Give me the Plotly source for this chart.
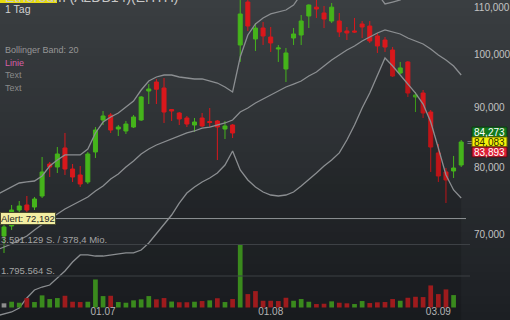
import math
import plotly.graph_objects as go

# ---------------- data ----------------
idx = list(range(61))
opens = [69730, 71130, 73430, 74170, 73870, 75510, 80480, 80000, 83090, 79680,
         78740, 77650, 82430, 87850, 88730, 86290, 85950, 86630, 87850, 93070,
         94760, 93630, 89710, 89090, 88200, 86980, 88200, 87590, 87680, 86290,
         86980, 102010, 111130, 103240, 105520, 103650, 101200, 97250, 103440, 104060,
         108080, 110000, 108720, 107000, 107000, 104900, 104900, 106370, 105940, 103860,
         103030, 101000, 96470, 98620, 91970, 92700, 89260, 82270, 79210, 79370,
         80320]
highs = [71270, 74170, 74760, 75510, 75360, 81610, 80800, 83250, 85610, 80480,
         80160, 82430, 86630, 89440, 89090, 86980, 87680, 88730, 92150, 94380,
         95330, 95520, 89800, 89260, 88560, 88200, 89090, 89980, 87850, 87680,
         87150, 112000, 111800, 106580, 106790, 105730, 102010, 101400, 105520, 108290,
         110600, 111700, 110250, 110910, 108720, 105730, 107650, 107000, 107000, 104480,
         103650, 101600, 98620, 98800, 92890, 93260, 89620, 83750, 79840, 81780,
         84420]
lows = [67400, 70570, 72700, 72420, 73430, 75210, 78420, 79050, 78740, 77650,
        76880, 77340, 81450, 86980, 85610, 85100, 85440, 86460, 87680, 90690,
        90690, 87330, 87680, 86980, 86630, 85780, 86630, 86630, 81120, 84590,
        84760, 98620, 104900, 100800, 102010, 100600, 98620, 94760, 102010, 102010,
        105520, 107650, 105520, 106580, 103650, 103030, 104480, 103440, 102420, 100400,
        100600, 95710, 96280, 91970, 89260, 88200, 79210, 77650, 74460, 78270,
        80000]
closes = [70990, 73430, 74020, 73430, 75060, 79210, 80000, 82100, 79680, 78420,
          77340, 82100, 86120, 88560, 86120, 86630, 87150, 88380, 91970, 93450,
          93400, 89260, 89440, 88030, 87150, 87500, 86810, 87410, 86630, 86810,
          85610, 108510, 105940, 105520, 103860, 102420, 101400, 100400, 104270, 107000,
          110470, 109590, 107430, 110000, 104690, 104480, 104690, 105730, 102830, 101810,
          101600, 95900, 97450, 92700, 92340, 89090, 83250, 78580, 77960, 79840,
          84083]
volumes = [238000, 329000, 272000, 538000, 312000, 691000, 482000, 538000, 668000, 329000,
           312000, 329000, 1598000, 651000, 668000, 312000, 272000, 408000, 465000, 651000,
           465000, 538000, 340000, 300000, 300000, 329000, 368000, 408000, 527000, 312000,
           482000, 3600000, 765000, 935000, 385000, 385000, 368000, 555000, 385000, 482000,
           329000, 198000, 215000, 351000, 272000, 238000, 198000, 368000, 255000, 295000,
           312000, 482000, 385000, 555000, 612000, 595000, 1258000, 765000, 1031000, 708000]

band_x = list(range(-1, 61))
bb_upper = [75660, 76270, 76880, 77490, 77650, 77800, 78580, 80160, 81120, 81940,
            81940, 81940, 82920, 85610, 87500, 88380, 89090, 90150, 91240, 93260,
            94950, 95710, 96090, 96090, 95710, 95520, 95330, 95330, 94950, 94570,
            93820, 92890, 99600, 104060, 106370, 107650, 108510, 108940, 109370, 110470,
            112870, 113840, 114270, 115500, 116900, 117730, 117580, 116640, 115680, 114600,
            113060, 110690, 111130, 111580, 113370, 113500, 114000, 115000, 116900, 119200,
            119200, 117000]
bb_mid = [67810, 68220, 68620, 69170, 69730, 70570, 71410, 72130, 72850, 73580,
          74170, 74760, 75360, 76270, 77030, 78110, 78890, 80000, 80960, 82100,
          82920, 83580, 84080, 84590, 85100, 85610, 85950, 86460, 86630, 86980,
          87330, 87850, 89260, 89980, 90880, 91600, 92340, 93070, 93820, 94380,
          94950, 95900, 96660, 97830, 99010, 100000, 101000, 101810, 102830, 103650,
          104480, 105110, 104690, 104270, 103440, 102830, 102210, 101200, 100000, 99010,
          97830, 96090]
bb_lower = [59460, 59690, 59930, 60410, 61630, 62620, 62990, 63240, 64130, 65030,
            66210, 67140, 67140, 67000, 67000, 67140, 67270, 67410, 67410, 67810,
            68760, 70010, 71270, 72700, 74460, 75960, 76880, 77650, 78270, 79050,
            80320, 82600, 79520, 77960, 76880, 76110, 75660, 75510, 75660, 76110,
            77030, 77960, 79050, 80160, 81120, 82270, 84420, 86980, 89980, 92700,
            95900, 99400, 97830, 96090, 94380, 92700, 90690, 87500, 83090, 78740,
            76420, 75210]

x_tick_pos = [13, 35, 57]
x_tick_labels = ["01.07", "01.08", "03.09"]
y_tick_vals = [70000, 80000, 90000, 100000, 110000]
y_tick_labels = ["70,000", "80,000", "90,000", "100,000", "110,000"]
alert_level = 72192
quote_bid, quote_last, quote_ask = 84273, 84083, 83893
vol_grid = [1795564, 3591129]
vol_grid_labels = ["1.795.564 S.", "3.591.129 S. / 378,4 Mio."]

# ---------------- style ----------------
FONT = "Liberation Sans, Arial, sans-serif"
W, H = 510, 320
PW = 467
PX_PER_LN = 502.0            # vertical pixels per natural-log unit of price
GREEN, RED = "#45b41b", "#d9181c"
VGREEN, VRED, VGRAY = "#3a8a1d", "#9e1b1d", "#8e8e8e"
BAND = "#8b8e91"


def px_x(px):
    return px / PW


def px_y(py):
    return 1 - py / H


def shift_px(value, px):
    """price level that lies `px` pixels above `value` on the log axis"""
    return value * math.exp(px / PX_PER_LN)


vol_colors = [VGRAY] + [VGREEN if closes[i] >= closes[i - 1] else VRED
                        for i in range(1, len(volumes))]

fig = go.Figure()
fig.add_trace(go.Scatter(x=band_x, y=bb_lower, mode="lines",
                         line=dict(color=BAND, width=1.3),
                         fill="tozeroy", fillcolor="rgba(0,0,0,0.13)",
                         hoverinfo="skip"))
fig.add_trace(go.Scatter(x=band_x, y=bb_mid, mode="lines",
                         line=dict(color=BAND, width=1.3), hoverinfo="skip"))
fig.add_trace(go.Scatter(x=band_x, y=bb_upper, mode="lines",
                         line=dict(color=BAND, width=1.3), hoverinfo="skip"))
fig.add_trace(go.Candlestick(
    x=idx, open=opens, high=highs, low=lows, close=closes,
    increasing=dict(line=dict(color=GREEN, width=1), fillcolor=GREEN),
    decreasing=dict(line=dict(color=RED, width=1), fillcolor=RED),
    whiskerwidth=0, hoverinfo="skip"))
fig.add_trace(go.Bar(x=idx[:len(volumes)], y=volumes, width=0.62,
                     marker=dict(color=vol_colors, line=dict(width=0)),
                     yaxis="y2", hoverinfo="skip"))

# background gradient
shapes = []
N = 40
top = (0x3a, 0x3e, 0x41)
bot = (0x1c, 0x1f, 0x23)
for k in range(N):
    t = (k + 0.5) / N
    c = tuple(round(top[j] + (bot[j] - top[j]) * t) for j in range(3))
    shapes.append(dict(type="rect", xref="paper", yref="paper",
                       x0=0, x1=W / PW, y0=1 - k / N, y1=1 - (k + 1) / N,
                       fillcolor="rgb(%d,%d,%d)" % c, line=dict(width=0), layer="below"))

# volume gridlines
for v in vol_grid:
    shapes.append(dict(type="line", xref="paper", yref="y2", x0=0, x1=px_x(470),
                       y0=v, y1=v, line=dict(color="#3d4145", width=1)))
# alert line
shapes.append(dict(type="line", xref="paper", yref="y", x0=0, x1=px_x(466),
                   y0=alert_level, y1=alert_level, line=dict(color="#8f9295", width=1)))
# top yellow strip
shapes.append(dict(type="rect", xref="paper", yref="paper", x0=0, x1=px_x(57),
                   y0=1, y1=px_y(3), fillcolor="#e9dc10", line=dict(width=0)))
# quote boxes
for off, col, brd in [((5, 15), "#127a1e", "#0b3d10"), ((-5, 5), "#f4f10a", "#6b6a00"),
                      ((-15, -5), "#dc1f35", "#5a0a12")]:
    shapes.append(dict(type="rect", xref="paper", yref="y",
                       y0=shift_px(quote_last, off[0]), y1=shift_px(quote_last, off[1]),
                       x0=px_x(472), x1=px_x(507), fillcolor=col,
                       line=dict(color=brd, width=1)))

ann = []


def txt(text, x, y, size=9, color="#9a9a9a", xanchor="left", yanchor="middle",
        xref="paper", yref="paper", yshift=0):
    ann.append(dict(text=text, x=x, y=y, xref=xref, yref=yref, xanchor=xanchor,
                    yanchor=yanchor, showarrow=False, yshift=yshift,
                    borderpad=0, font=dict(family=FONT, size=size, color=color)))


txt("Ethereum (A2DB14)(EHTH)", px_x(4), px_y(6), size=14, color="#c8c8c8", yanchor="bottom")
txt("1 Tag", px_x(4), px_y(8.5), size=10.5, color="#d2d2d2")
txt("Bollinger Band: 20", px_x(4), px_y(50), size=9, color="#969696")
txt("Linie", px_x(4), px_y(62.5), size=9, color="#d65fa6")
txt("Text", px_x(4), px_y(75), size=9, color="#8a8a8a")
txt("Text", px_x(4), px_y(88), size=9, color="#8a8a8a")

for v, lab in zip(vol_grid, vol_grid_labels):
    txt(lab, px_x(0), v, size=9.5, color="#a4a4a4", yref="y2", yanchor="bottom", yshift=-1)

ann.append(dict(text="Alert: 72,192", x=0, xref="paper", y=math.log10(alert_level), yref="y",
                xanchor="left", yanchor="middle", showarrow=False,
                bgcolor="#f3eea2", bordercolor="#4a4a30", borderwidth=1, borderpad=0,
                font=dict(family=FONT, size=9.5, color="#262626")))

for val, yoff, fc in [(quote_bid, 10, "#ffffff"), (quote_last, 0, "#2b2b00"),
                      (quote_ask, -10, "#ffffff")]:
    ann.append(dict(text=f"{val:,}", x=px_x(489.5), xref="paper",
                    y=math.log10(quote_last), yref="y", yshift=yoff,
                    xanchor="center", yanchor="middle", showarrow=False, borderpad=0,
                    font=dict(family=FONT, size=10, color=fc)))
ann.append(dict(text="=", x=px_x(469), xref="paper", y=math.log10(quote_last), yref="y",
                xanchor="center", yanchor="middle", showarrow=False, borderpad=0,
                font=dict(family=FONT, size=9, color="#b0b0b0")))

y_lo = math.log10(80000) + (167 - 320) / PX_PER_LN / math.log(10)
y_hi = math.log10(80000) + (167 - 0) / PX_PER_LN / math.log(10)
vpp = vol_grid[0] / 31.5
v_lo = -(320 - 307.5) * vpp
v_hi = 307.5 * vpp

fig.update_layout(
    width=W, height=H, margin=dict(l=0, r=W - PW, t=0, b=0),
    paper_bgcolor="#2b2f32", plot_bgcolor="rgba(0,0,0,0)",
    showlegend=False, hovermode=False, boxgap=0.25,
    font=dict(family=FONT),
    shapes=shapes, annotations=ann,
    xaxis=dict(range=[-0.525, -0.525 + PW / 7.62], rangeslider=dict(visible=False),
               showgrid=False, zeroline=False, showline=False,
               tickvals=x_tick_pos, ticktext=x_tick_labels, ticks="",
               ticklabelposition="inside", tickfont=dict(size=10, color="#b4b4b4")),
    yaxis=dict(type="log", range=[y_lo, y_hi], side="right", showgrid=False,
               zeroline=False, showline=False, ticks="",
               tickvals=y_tick_vals, ticktext=y_tick_labels, ticklabelstandoff=6,
               tickfont=dict(size=10, color="#c2c2c2")),
    yaxis2=dict(overlaying="y", range=[v_lo, v_hi], visible=False, showgrid=False),
)

fig.write_html("out.html")
